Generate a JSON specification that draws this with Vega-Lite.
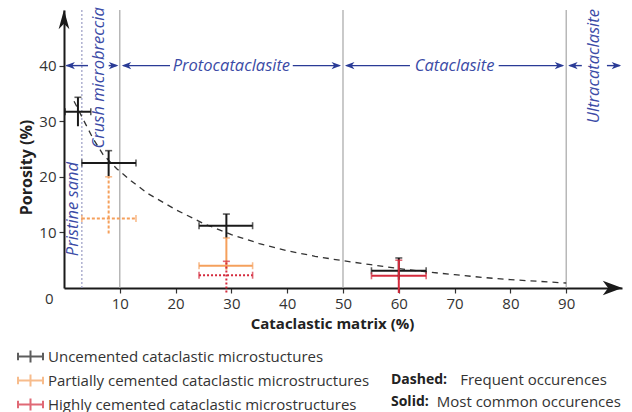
{
  "$schema": "https://vega.github.io/schema/vega-lite/v6.json",
  "width": 558,
  "height": 278,
  "autosize": {"type": "none"},
  "padding": {"left": 64, "top": 10, "right": 10, "bottom": 124},
  "background": "white",
  "config": {"view": {"stroke": null}, "font": "Open Sans", "axis": {"grid": false}},
  "datasets": {
    "bars": [
      {"group": "Uncemented  cataclastic microstuctures", "style": "solid", "x": 2.5, "xlo": 0.2, "xhi": 4.8, "y": 31.7, "ylo": 29.1, "yhi": 34.3},
      {"group": "Uncemented  cataclastic microstuctures", "style": "solid", "x": 8.0, "xlo": 3.2, "xhi": 12.9, "y": 22.5, "ylo": 20.1, "yhi": 24.7},
      {"group": "Uncemented  cataclastic microstuctures", "style": "solid", "x": 29.1, "xlo": 24.2, "xhi": 33.8, "y": 11.2, "ylo": 9.0, "yhi": 13.3},
      {"group": "Uncemented  cataclastic microstuctures", "style": "solid", "x": 60.0, "xlo": 55.1, "xhi": 64.9, "y": 3.1, "ylo": 1.5, "yhi": 5.4},
      {"group": "Partially cemented cataclastic microstructures", "style": "dashed", "x": 8.0, "xlo": 3.2, "xhi": 12.9, "y": 12.5, "ylo": 9.8, "yhi": 20.0},
      {"group": "Partially cemented cataclastic microstructures", "style": "solid", "x": 29.1, "xlo": 24.2, "xhi": 33.8, "y": 4.0, "ylo": 3.3, "yhi": 9.0},
      {"group": "Highly cemented cataclastic microstructures", "style": "dotted", "x": 29.1, "xlo": 24.2, "xhi": 33.8, "y": 2.3, "ylo": -0.8, "yhi": 4.8},
      {"group": "Highly cemented cataclastic microstructures", "style": "solid", "x": 60.0, "xlo": 55.1, "xhi": 64.9, "y": 2.2, "ylo": -0.9, "yhi": 5.0}
    ],
    "curve": [
      {"x": 1.8, "y": 33.6}, {"x": 3.5, "y": 30.2}, {"x": 5.2, "y": 26.9}, {"x": 7, "y": 24.0},
      {"x": 9.5, "y": 21.4}, {"x": 12, "y": 19.3}, {"x": 15, "y": 17.0}, {"x": 20, "y": 14.1},
      {"x": 25, "y": 11.6}, {"x": 30, "y": 9.6}, {"x": 35, "y": 8.0}, {"x": 40, "y": 6.7},
      {"x": 45, "y": 5.7}, {"x": 50, "y": 4.9}, {"x": 55, "y": 4.2}, {"x": 60, "y": 3.5},
      {"x": 65, "y": 2.9}, {"x": 70, "y": 2.4}, {"x": 75, "y": 1.9}, {"x": 80, "y": 1.5},
      {"x": 85, "y": 1.2}, {"x": 90, "y": 0.9}
    ],
    "zones": [{"x": 10}, {"x": 50}, {"x": 90}],
    "sand": [{"x": 3.2}],
    "arrowlines": [
      {"x": 0.4, "x2": 4.3}, {"x": 8.0, "x2": 9.4},
      {"x": 10.6, "x2": 19.0}, {"x": 41.0, "x2": 49.4},
      {"x": 50.6, "x2": 62.0}, {"x": 77.9, "x2": 89.4},
      {"x": 90.6, "x2": 92.8}, {"x": 97.3, "x2": 99.6}
    ],
    "blueheads": [
      {"x": 1.1, "dir": "left"}, {"x": 8.9, "dir": "right"},
      {"x": 11.2, "dir": "left"}, {"x": 48.8, "dir": "right"},
      {"x": 51.2, "dir": "left"}, {"x": 88.8, "dir": "right"},
      {"x": 91.2, "dir": "left"}, {"x": 99.0, "dir": "right"}
    ],
    "axisheads": [
      {"x": 98.3, "y": 0, "dir": "right"},
      {"x": 0, "y": 48.3, "dir": "up"}
    ],
    "hlabels": [
      {"label": "Protocataclasite", "x": 30, "y": 40},
      {"label": "Cataclasite", "x": 70, "y": 40}
    ],
    "vlabels": [
      {"label": "Pristine sand", "x": 1.6, "y": 14.2},
      {"label": "Crush microbreccia", "x": 6.2, "y": 37.8},
      {"label": "Ultracataclasite", "x": 94.9, "y": 39.9}
    ],
    "notesBold": [
      {"label": "Dashed:", "x": 58.6, "y": -16.5},
      {"label": "Solid:", "x": 58.6, "y": -20.5}
    ],
    "notesReg": [
      {"label": "Frequent occurences", "x": 71.0, "y": -16.5},
      {"label": "Most common occurences", "x": 66.8, "y": -20.5}
    ]
  },
  "layer": [
    {
      "data": {"name": "zones"},
      "mark": {"type": "rule", "color": "#a6a6a6", "strokeWidth": 1.2},
      "encoding": {
        "x": {"field": "x", "type": "quantitative", "scale": {"domain": [0, 100], "nice": false},
          "axis": {"title": "Cataclastic matrix (%)", "values": [10, 20, 30, 40, 50, 60, 70, 80, 90],
            "domainColor": "#1a1a1a", "domainWidth": 2, "tickColor": "#333", "tickSize": 5, "tickWidth": 1.2,
            "labelFont": "Open Sans", "labelFontSize": 15, "labelColor": "#333", "labelPadding": 3,
            "titleFont": "Open Sans", "titleFontSize": 15, "titleFontWeight": "bold", "titleColor": "#222",
            "titlePadding": 5, "titleX": 268}},
        "y": {"datum": 0, "type": "quantitative", "scale": {"domain": [0, 50], "nice": false},
          "axis": {"title": "Porosity (%)", "values": [0, 10, 20, 30, 40],
            "domainColor": "#1a1a1a", "domainWidth": 2, "tickColor": "#333", "tickSize": 5, "tickWidth": 1.2,
            "tickOpacity": {"condition": {"test": "datum.value === 0", "value": 0}, "value": 1},
            "labelOffset": {"condition": {"test": "datum.value === 0", "value": 10}, "value": 0},
            "labelPadding": {"condition": {"test": "datum.value === 0", "value": 6}, "value": 3},
            "labelFont": "Open Sans", "labelFontSize": 15, "labelColor": "#333",
            "titleFont": "Open Sans", "titleFontSize": 16, "titleFontWeight": "bold", "titleColor": "#222",
            "titlePadding": 4, "titleY": 157}},
        "y2": {"datum": 50}
      }
    },
    {
      "data": {"name": "sand"},
      "mark": {"type": "rule", "color": "#9a9cc4", "strokeWidth": 1.2, "strokeDash": [2, 2]},
      "encoding": {
        "x": {"field": "x", "type": "quantitative"},
        "y": {"datum": 0, "type": "quantitative"},
        "y2": {"datum": 50}
      }
    },
    {
      "data": {"name": "curve"},
      "mark": {"type": "line", "color": "#333333", "strokeWidth": 1.3, "strokeDash": [6, 5]},
      "encoding": {
        "x": {"field": "x", "type": "quantitative"},
        "y": {"field": "y", "type": "quantitative"}
      }
    },
    {
      "data": {"name": "arrowlines"},
      "mark": {"type": "rule", "color": "#2a3b96", "strokeWidth": 1.4},
      "encoding": {
        "x": {"field": "x", "type": "quantitative"},
        "x2": {"field": "x2"},
        "y": {"datum": 40, "type": "quantitative"}
      }
    },
    {
      "data": {"name": "blueheads"},
      "mark": {"type": "point", "filled": true, "color": "#2a3b96", "size": 90, "opacity": 1, "strokeWidth": 0},
      "encoding": {
        "x": {"field": "x", "type": "quantitative"},
        "y": {"datum": 40, "type": "quantitative"},
        "shape": {"field": "dir", "type": "nominal", "legend": null,
          "scale": {"domain": ["left", "right", "up"], "range": ["M-1,0L1,-0.75L0.45,0L1,0.75Z", "M1,0L-1,-0.75L-0.45,0L-1,0.75Z", "M0,-1L0.55,1L0,0.45L-0.55,1Z"]}}
      }
    },
    {
      "data": {"name": "axisheads"},
      "mark": {"type": "point", "filled": true, "color": "#1a1a1a", "size": 380, "opacity": 1, "strokeWidth": 0},
      "encoding": {
        "x": {"field": "x", "type": "quantitative"},
        "y": {"field": "y", "type": "quantitative"},
        "shape": {"field": "dir", "type": "nominal", "legend": null}
      }
    },
    {
      "data": {"name": "hlabels"},
      "mark": {"type": "text", "font": "Open Sans", "fontStyle": "italic", "fontSize": 16.5, "color": "#3b4ba6", "align": "center", "baseline": "middle"},
      "encoding": {
        "x": {"field": "x", "type": "quantitative"},
        "y": {"field": "y", "type": "quantitative"},
        "text": {"field": "label"}
      }
    },
    {
      "data": {"name": "vlabels"},
      "mark": {"type": "text", "font": "Open Sans", "fontStyle": "italic", "fontSize": 16.5, "color": "#3b4ba6", "align": "center", "baseline": "middle", "angle": 270},
      "encoding": {
        "x": {"field": "x", "type": "quantitative"},
        "y": {"field": "y", "type": "quantitative"},
        "text": {"field": "label"}
      }
    },
    {
      "data": {"name": "bars"},
      "mark": {"type": "rule", "strokeWidth": 2},
      "encoding": {
        "x": {"field": "xlo", "type": "quantitative"},
        "x2": {"field": "xhi"},
        "y": {"field": "y", "type": "quantitative"},
        "color": {"field": "group", "type": "nominal",
          "scale": {"domain": ["Uncemented  cataclastic microstuctures", "Partially cemented cataclastic microstructures", "Highly cemented cataclastic microstructures"], "range": ["#1a1a1a", "#f5a05c", "#d42a3c"]},
          "legend": {"title": null, "orient": "none", "legendX": -47, "legendY": 333,
            "symbolType": "M-1,0H1M-1,-0.3V0.3M1,-0.3V0.3M0,-0.48V0.48", "symbolSize": 625, "symbolStrokeWidth": 2,
            "symbolFillColor": "transparent", "labelFont": "Open Sans", "labelFontSize": 15, "labelColor": "#333",
            "labelOffset": 4, "rowPadding": -2, "labelLimit": 400}},
        "strokeDash": {"field": "style", "type": "nominal", "legend": null,
          "scale": {"domain": ["solid", "dashed", "dotted"], "range": [[1, 0], [3, 2], [2, 2]]}}
      }
    },
    {
      "data": {"name": "bars"},
      "mark": {"type": "rule", "strokeWidth": 2},
      "encoding": {
        "x": {"field": "x", "type": "quantitative"},
        "y": {"field": "ylo", "type": "quantitative"},
        "y2": {"field": "yhi"},
        "color": {"field": "group", "type": "nominal"},
        "strokeDash": {"field": "style", "type": "nominal", "legend": null}
      }
    },
    {
      "data": {"name": "bars"},
      "mark": {"type": "tick", "orient": "vertical", "size": 7, "thickness": 1.6},
      "encoding": {
        "x": {"field": "xlo", "type": "quantitative"},
        "y": {"field": "y", "type": "quantitative"},
        "color": {"field": "group", "type": "nominal"}
      }
    },
    {
      "data": {"name": "bars"},
      "mark": {"type": "tick", "orient": "vertical", "size": 7, "thickness": 1.6},
      "encoding": {
        "x": {"field": "xhi", "type": "quantitative"},
        "y": {"field": "y", "type": "quantitative"},
        "color": {"field": "group", "type": "nominal"}
      }
    },
    {
      "data": {"name": "bars"},
      "mark": {"type": "tick", "orient": "horizontal", "size": 7, "thickness": 1.6},
      "encoding": {
        "x": {"field": "x", "type": "quantitative"},
        "y": {"field": "yhi", "type": "quantitative"},
        "color": {"field": "group", "type": "nominal"}
      }
    },
    {
      "data": {"name": "notesBold"},
      "mark": {"type": "text", "font": "Open Sans", "fontWeight": "bold", "fontSize": 14, "color": "#222", "align": "left", "baseline": "middle"},
      "encoding": {
        "x": {"field": "x", "type": "quantitative"},
        "y": {"field": "y", "type": "quantitative"},
        "text": {"field": "label"}
      }
    },
    {
      "data": {"name": "notesReg"},
      "mark": {"type": "text", "font": "Open Sans", "fontSize": 15, "color": "#333", "align": "left", "baseline": "middle"},
      "encoding": {
        "x": {"field": "x", "type": "quantitative"},
        "y": {"field": "y", "type": "quantitative"},
        "text": {"field": "label"}
      }
    }
  ]
}
